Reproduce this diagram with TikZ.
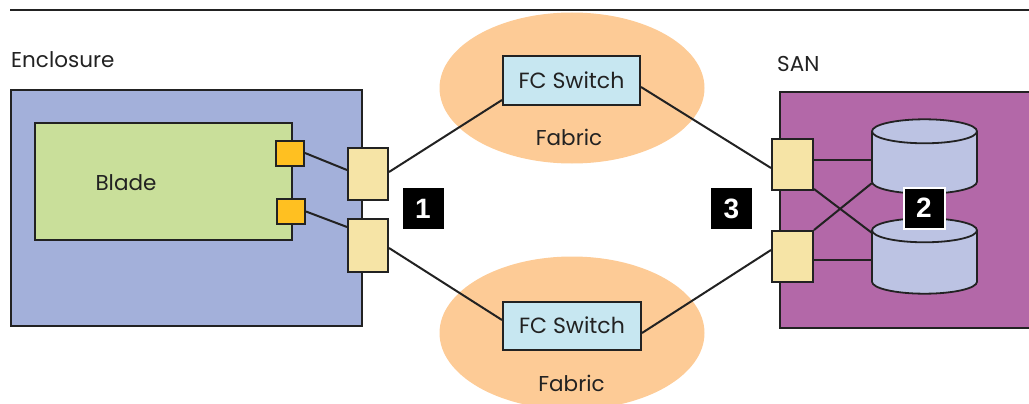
\documentclass[tikz,border=0pt]{standalone}
\usepackage{fontspec}
\setmainfont{Poppins}
\newfontfamily\badgefont{Liberation Sans}
\usetikzlibrary{shapes.geometric}

\definecolor{inkgray}{HTML}{222222}
\definecolor{enclfill}{HTML}{A3B0DA}
\definecolor{bladefill}{HTML}{C9DF9A}
\definecolor{hbafill}{HTML}{FFC021}
\definecolor{portfill}{HTML}{F6E4A6}
\definecolor{fabricfill}{HTML}{FDCB96}
\definecolor{switchfill}{HTML}{C7E7F1}
\definecolor{sanfill}{HTML}{B368A8}
\definecolor{diskfill}{HTML}{BCC3E3}

\begin{document}
\begin{tikzpicture}[x=1pt,y=-1pt,
  box/.style={draw=inkgray, line width=2pt, inner sep=0pt},
  hba/.style={box, fill=hbafill, minimum width=28pt, minimum height=25pt},
  port/.style={box, fill=portfill, minimum width=40pt, minimum height=52pt},
  switchbox/.style={box, fill=switchfill, minimum width=137pt, minimum height=49pt,
    text=inkgray, font=\fontsize{22}{22}\selectfont, text height=15.4pt, text depth=0pt},
  fabric/.style={ellipse, fill=fabricfill, inner sep=0pt, minimum width=265pt, minimum height=151pt},
  disk/.style={inner sep=0pt, minimum width=105pt},
  diskline/.style={draw=inkgray, line width=1.8pt, fill=diskfill},
  badge/.style={fill=black, text=white, inner sep=0pt, minimum width=41pt, minimum height=41pt,
    font=\badgefont\bfseries\fontsize{28}{28}\selectfont},
  wire/.style={draw=inkgray, line width=2pt},
  lbl/.style={text=inkgray, inner sep=0pt, font=\fontsize{21.5}{21.5}\selectfont, text height=15pt, text depth=0pt}]

\clip (0,0) rectangle (1029,404);

% header rule
\coordinate (ruleL) at (10,10);
\coordinate (ruleR) at (1040,10);
\draw[line width=2pt, inkgray] (ruleL) -- (ruleR);

% fabrics
\node[fabric] (fab1) at (572,88) {};
\node[fabric, minimum height=153pt] (fab2) at (572,333) {};

% enclosure and blade
\node[box, line width=2.2pt, fill=enclfill, minimum width=351pt, minimum height=236pt] (encl) at (186.5,208) {};
\node[box, fill=bladefill, minimum width=257pt, minimum height=117pt] (blade) at (163.5,181.5) {};

% SAN
\node[box, line width=2.2pt, fill=sanfill, minimum width=262pt, minimum height=236pt] (san) at (911,210) {};

% ports and switches
\node[hba] (hba1) at (290,153) {};
\node[hba] (hba2) at (291,211.5) {};
\node[port] (ep1) at (368,174) {};
\node[port, minimum height=53pt] (ep2) at (368,245.5) {};
\node[port, minimum width=41pt, minimum height=51pt] (sp1) at (792.5,164.5) {};
\node[port, minimum width=41pt, minimum height=51pt] (sp2) at (792.5,256.5) {};
\node[switchbox] (sw1) at (571.5,81) {FC Switch};
\node[switchbox, minimum width=138pt, minimum height=48pt] (sw2) at (572,326) {FC Switch};

% disks: body nodes span between the centres of the end ellipses
\node[disk, minimum height=50pt] (c1) at (924.5,156.5) {};
\node[disk, minimum height=51pt] (c2) at (924.5,256) {};
\foreach \d in {c1,c2}{
  \filldraw[diskline] (\d.south) ellipse [x radius=52.5pt, y radius=12pt];
  \fill[diskfill] (\d.north west) rectangle (\d.south east);
  \draw[inkgray, line width=1.8pt] (\d.north west) -- (\d.south west) (\d.north east) -- (\d.south east);
  \filldraw[diskline] (\d.north) ellipse [x radius=52.5pt, y radius=12pt];
}

% cabling
\draw[wire] (hba1.east) -- ([yshift=4pt]ep1.west);
\draw[wire] (hba2.east) -- ([yshift=18.5pt]ep2.west);
\draw[wire] ([yshift=2pt]ep1.east) -- ([yshift=-19pt]sw1.west);
\draw[wire] ([yshift=-2.5pt]ep2.east) -- ([yshift=6pt]sw2.west);
\draw[wire] ([yshift=-6pt]sw1.east) -- ([yshift=-3.5pt]sp1.west);
\draw[wire] ([yshift=-7pt]sw2.east) -- ([yshift=6.5pt]sp2.west);
\draw[wire] ([yshift=4.5pt]sp1.east) -- ([yshift=-3.5pt]c1.west);
\draw[wire] ([yshift=2pt]sp1.south east) -- ([yshift=-2.5pt]c2.north west);
\draw[wire] (sp2.north east) -- ([yshift=-1.5pt]c1.south west);
\draw[wire] ([yshift=-3.5pt]sp2.east) -- ([yshift=-4pt]c2.west);

% callouts
\node[badge] (b1) at (423,208.5) {1};
\node[badge] (b3) at (731.5,208.5) {3};
\node[badge, draw=white, line width=2pt] (b2) at (924,208) {2};

% labels
\node[lbl, anchor=west] (lencl) at (11,60) {Enclosure};
\node[lbl] (lblade) at (126,182.5) {Blade};
\node[lbl, anchor=west] (lsan) at (777,64.5) {SAN};
\node[lbl] (lfab1) at (569,138) {Fabric};
\node[lbl] (lfab2) at (571.5,384) {Fabric};

\end{tikzpicture}
\end{document}
